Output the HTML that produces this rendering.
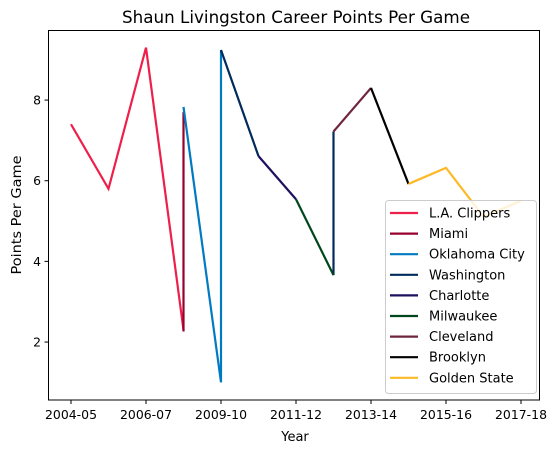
<!DOCTYPE html>
<html><head><meta charset="utf-8"><style>
body{margin:0;background:#fff}
svg{display:block;font-family:"DejaVu Sans","Liberation Sans",sans-serif}
</style></head><body>
<svg id="chart" width="560" height="453">
<rect width="560" height="453" fill="#fff"/>
<text x="296" y="23" font-size="16.5" text-anchor="middle" textLength="348" lengthAdjust="spacingAndGlyphs">Shaun Livingston Career Points Per Game</text>
<g id="plot"></g>
<rect x="48.5" y="30.5" width="491" height="369.5" fill="none" stroke="#000" stroke-width="1"/>
<text x="295" y="441" font-size="13" text-anchor="middle">Year</text>
<text x="21" y="215" font-size="13" text-anchor="middle" textLength="119" lengthAdjust="spacingAndGlyphs" transform="rotate(-90 21 215)">Points Per Game</text>
</svg>
<script>
const xLabels=["2004-05","2006-07","2009-10","2011-12","2013-14","2015-16","2017-18"];
const xTickIdx=[0,2,4,6,8,10,12];
const yTicks=[2,4,6,8];
const teams=["L.A. Clippers","Miami","Oklahoma City","Washington","Charlotte","Milwaukee","Cleveland","Brooklyn","Golden State"];
const colors=["#EE1F4A","#98002E","#007AC1","#002B5C","#1D1160","#00471B","#6F263D","#000000","#FDB927"];
const clippersX=[0,1,2,3], clippersY=[7.4,5.8,9.3,2.3];
const miamiX=[3,3], miamiY=[7.7,2.26];
const okcX=[3,4,4], okcY=[7.83,1.0,9.24];
const washX=[4,5,null,7,7], washY=[9.24,6.61,null,3.66,7.22];
const charX=[5,6], charY=[6.61,5.54];
const milX=[6,7], milY=[5.54,3.66];
const cleX=[7,8], cleY=[7.22,8.3];
const bknX=[8,9], bknY=[8.3,5.92];
const gswX=[9,10,11,12], gswY=[5.92,6.32,5.11,5.5];
const seriesX=[clippersX,miamiX,okcX,washX,charX,milX,cleX,bknX,gswX];
const seriesY=[clippersY,miamiY,okcY,washY,charY,milY,cleY,bknY,gswY];
const NS="http://www.w3.org/2000/svg";
const xs=i=>71+37.5*i;
const ys=v=>422.7-40.33*v;
const svg=document.getElementById('chart'), plot=document.getElementById('plot');
function mk(t,a,p){const e=document.createElementNS(NS,t);for(const k in a)e.setAttribute(k,a[k]);(p||svg).appendChild(e);return e;}
seriesX.forEach((X,s)=>{
  let d="",pen=false;
  X.forEach((x,i)=>{if(x===null){pen=false;return;}d+=(pen?"L":"M")+xs(x)+","+ys(seriesY[s][i]);pen=true;});
  const p=mk('path',{d:d,fill:"none",stroke:colors[s],"stroke-width":2.2},plot);
  
  
});
xTickIdx.forEach((ix,i)=>{
  const x=xs(ix);
  const l=mk('line',{x1:x,x2:x,y1:400,y2:404,stroke:"#000"});
  
  
  const t=mk('text',{x:x,y:419,"font-size":12.4,"text-anchor":"middle",textLength:52,lengthAdjust:"spacingAndGlyphs"});t.textContent=xLabels[i];
  
  
});
yTicks.forEach(v=>{
  const y=ys(v);
  const l=mk('line',{x1:44.5,x2:48.5,y1:y,y2:y,stroke:"#000"});
  
  
  const t=mk('text',{x:41,y:y+4.5,"font-size":12.4,"text-anchor":"end"});t.textContent=v;
  
  
});
const lg=mk('g',{});


mk('rect',{x:385.5,y:200.5,width:151,height:193,rx:3,fill:"#fff","fill-opacity":0.8,stroke:"#ccc"},lg);
teams.forEach((n,i)=>{
  const y=213+20.6*i;
  const g=mk('g',{},lg);
  
  
  mk('line',{x1:390,x2:418,y1:y,y2:y,stroke:colors[i],"stroke-width":2.2},g);
  const t=mk('text',{x:429,y:y+4.5,"font-size":13},g);t.textContent=n;
});
</script>
</body></html>
